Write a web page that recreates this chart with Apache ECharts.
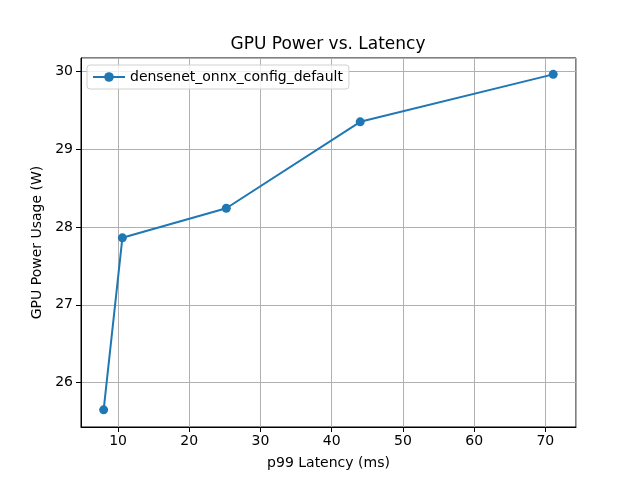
<!DOCTYPE html>
<html lang="en">
<head>
    <meta charset="UTF-8">
    <title>GPU Power vs. Latency</title>
    <script src="https://cdn.jsdelivr.net/npm/echarts@6/dist/echarts.min.js"></script>
</head>
<body style="margin:0">
<div id="main" style="width: 640px;height: 480px"></div>
<script type="text/javascript">
    var seriesName = 'densenet_onnx_config_default';
    var latency = [7.98, 10.61, 25.2, 44.0, 71.1];
    var power = [25.65, 27.86, 28.24, 29.35, 29.96];

    var points = latency.map(function (x, i) { return [x, power[i]]; });
    var font = 'DejaVu Sans';

    var myChart = echarts.init(document.getElementById('main'));
    var option = {
        backgroundColor: '#fff',
        animation: false,
        title: {
            text: 'GPU Power vs. Latency',
            left: 323, top: 31, textAlign: 'center',
            textStyle: {fontFamily: font, fontSize: 17, fontWeight: 'normal', color: '#000'}
        },
        legend: {
            data: [seriesName],
            left: 87, top: 65,
            orient: 'vertical',
            itemWidth: 32, itemHeight: 12, itemGap: 5,
            padding: [5, 6, 5, 5],
            backgroundColor: 'rgba(255,255,255,0.8)',
            borderColor: '#d0d0d0', borderWidth: 1, borderRadius: 3,
            textStyle: {fontFamily: font, fontSize: 14, color: '#000'}
        },
        grid: {
            left: 81, right: 64, top: 58, bottom: 53,
            show: true, borderColor: '#000', borderWidth: 1
        },
        xAxis: {
            type: 'value',
            min: 4.8, max: 74.3,
            name: 'p99 Latency (ms)',
            nameLocation: 'middle', nameGap: 29,
            nameTextStyle: {fontFamily: font, fontSize: 14, color: '#000'},
            axisLine: {lineStyle: {color: '#000'}},
            axisTick: {show: true, length: 5, lineStyle: {color: '#000'}},
            axisLabel: {fontFamily: font, fontSize: 14, color: '#000', margin: 7,
                showMinLabel: false, showMaxLabel: false},
            splitLine: {show: true, lineStyle: {color: '#b0b0b0', width: 1}}
        },
        yAxis: {
            type: 'value',
            min: 25.43, max: 30.17,
            name: 'GPU Power Usage (W)',
            nameLocation: 'middle', nameGap: 36,
            nameTextStyle: {fontFamily: font, fontSize: 14, color: '#000'},
            axisLine: {show: true, lineStyle: {color: '#000'}},
            axisTick: {show: true, length: 5, lineStyle: {color: '#000'}},
            axisLabel: {fontFamily: font, fontSize: 14, color: '#000', margin: 8,
                showMinLabel: false, showMaxLabel: false},
            splitLine: {show: true, lineStyle: {color: '#b0b0b0', width: 1}}
        },
        series: [{
            name: seriesName,
            type: 'line',
            data: points,
            symbol: 'circle',
            symbolSize: 9,
            color: '#1f77b4',
            lineStyle: {width: 2, color: '#1f77b4'},
            itemStyle: {color: '#1f77b4'}
        }]
    };
    myChart.setOption(option);
</script>
</body>
</html>
